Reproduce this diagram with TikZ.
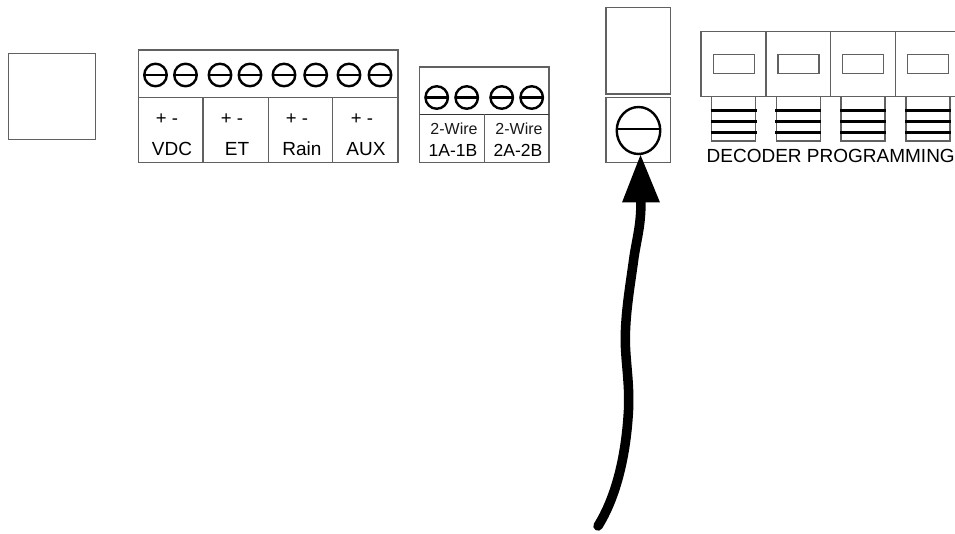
\documentclass[tikz,border=0pt]{standalone}
\usepackage{fontspec}
\usetikzlibrary{shapes.geometric}
\setmainfont{Liberation Sans}
\tikzset{x=1pt,y=-1pt,
 box/.style={draw=black!62,line width=1.3pt},
 boxd/.style={draw=black!80,line width=1.3pt},
 screw/.style={circle,draw=black,line width=2.4pt,minimum size=#1,inner sep=0pt,
   path picture={\draw[black,line width=2.2pt] (path picture bounding box.west)--(path picture bounding box.east);}},
 screw/.default=22.5pt,
 bigscrew/.style={ellipse,draw=black,line width=2.4pt,minimum width=43.5pt,minimum height=47pt,inner sep=0pt,
   path picture={\draw[black,line width=2.2pt] ([yshift=1.5pt]path picture bounding box.west)--([yshift=1.5pt]path picture bounding box.east);}},
 lab/.style={inner sep=0pt,text=black,font=\fontsize{19}{19}\selectfont,anchor=base},
 labs/.style={inner sep=0pt,text=black!90,font=\fontsize{16}{16}\selectfont,anchor=base},
 labn/.style={inner sep=0pt,text=black,font=\fontsize{17.5}{17.5}\selectfont,anchor=base},
 plus/.style={inner sep=0pt,text=black,font=\fontsize{18.5}{18.5}\selectfont,anchor=base},
 bar/.style={draw=black,line width=2.6pt}}
\begin{document}
\begin{tikzpicture}
\useasboundingbox (0,0) rectangle (955,534);
\clip (0,0) rectangle (955,534);
% left square
\draw[box] (8.3,53.3) rectangle (95.5,139.5);
% main terminal block
\draw[box] (138.3,50) rectangle (398,162.3);
\draw[box] (138.3,97.3) -- (398,97.3);
\foreach \x in {203,268.3,332.7} \draw[box] (\x,97.3) -- (\x,162.3);
\foreach \n/\x in {a/155.5,b/185.5,c/220,d/250,e/284,f/315.7,g/349,h/380}
  \node[screw] (s\n) at (\x,75) {};
\foreach \n/\x in {v/167,e/232,r/297,a/362}
  \node[plus] (p\n) at (\x,125) {+ -};
\node[lab] (vdc) at (172,156) {VDC};
\node[lab] (et) at (237,156) {ET};
\node[lab] (rain) at (302,156) {Rain};
\node[lab] (aux) at (366,156) {AUX};
% 2-wire block
\draw[box] (419.5,67) rectangle (549,162.3);
\draw[boxd] (419.5,114.5) -- (549,114.5);
\draw[box] (484.5,114.5) -- (484.5,162.3);
\foreach \n/\x in {a/436.7,b/466.7,c/501.7,d/531.7}
  \node[screw] (t\n) at (\x,97.5) {};
\node[labs] (w1) at (454,135) {2-Wire};
\node[labs] (w2) at (519,135) {2-Wire};
\node[labn] (n1) at (453,157) {1A-1B};
\node[labn] (n2) at (518,157) {2A-2B};
% fuse
\draw[box] (606,7.5) rectangle (670.5,94);
\draw[box] (606,97.5) rectangle (670.5,162.3);
\node[bigscrew] (big) at (638.5,130.5) {};
% decoder
\foreach \x in {701,765.7,830.4,895.2}{
  \draw[box] (\x,31.3) rectangle +(65,65);
  \draw[box] (\x+12.3,54.3) rectangle +(41,19);
  \draw[box] (\x+10.7,96.3) -- (\x+10.7,141) -- (\x+54.7,141) -- (\x+54.7,96.3);
  \foreach \y in {110.7,121.7,132.4} \draw[bar] (\x+9.7,\y) -- (\x+55.7,\y);
}
\node[lab,anchor=base west] (dec) at (706.5,162.7) {DECODER PROGRAMMING};
% arrow
\coordinate (tail) at (598,526);
\coordinate (tip) at (640.5,155);
\coordinate (headl) at (622,202.5);
\coordinate (headr) at (660,202.5);
\draw[black,line width=9.5pt,line cap=round,line join=round] (tail)
  .. controls (608,510) and (625,475) .. (628.5,410)
  .. controls (630,380) and (624,355) .. (625.5,330)
  .. controls (626.5,305) and (631,280) .. (634,257)
  .. controls (637.5,235) and (641,225) .. (641,200);
\fill[black] (tip) -- (headl) -- (headr) -- cycle;
\end{tikzpicture}
\end{document}
